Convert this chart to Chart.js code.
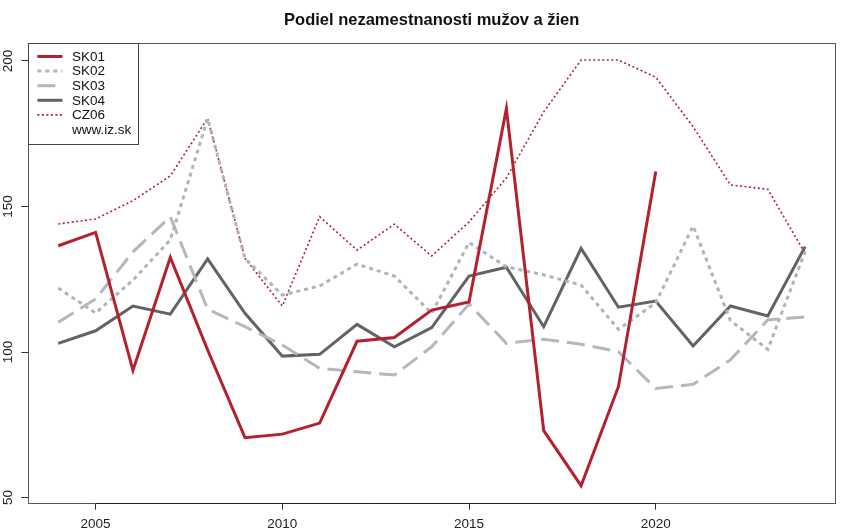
<!DOCTYPE html>
<html>
<head>
<meta charset="utf-8">
<script src="https://cdn.jsdelivr.net/npm/chart.js@4.4.1/dist/chart.umd.min.js"></script>
<style>
html,body{margin:0;padding:0;background:#fff;}
#wrap{width:850px;height:532px;position:relative;}
</style>
</head>
<body>
<div id="wrap"><canvas id="c" width="850" height="532"></canvas></div>
<script>
const years = [2004,2005,2006,2007,2008,2009,2010,2011,2012,2013,2014,2015,2016,2017,2018,2019,2020,2021,2022,2023,2024];
const sk01 = [136.5,141.1,93.7,132.5,100.7,70.6,71.8,75.6,103.7,105.0,114.4,117.2,183.6,73.0,54.1,88.1,162.0,null,null,null,null];
const sk02 = [122.0,113.4,124.7,138.5,180.2,132.2,119.6,122.7,130.2,126.1,113.3,137.6,129.3,126.5,123.0,107.8,116.9,143.3,110.8,100.9,134.5];
const sk03 = [110.2,118.2,134.4,146.5,114.7,108.7,102.4,94.4,93.2,92.1,101.8,116.5,103.0,104.4,102.7,100.1,87.5,88.9,97.3,111.0,112.1];
const sk04 = [103.0,107.3,115.8,113.0,132.0,113.3,98.6,99.2,109.5,101.8,108.4,126.1,129.1,108.7,135.6,115.4,117.5,102.1,115.8,112.4,136.2];
const cz06 = [144.0,145.7,152.0,160.5,180.3,132.2,115.8,146.5,135.0,143.9,133.0,144.7,159.8,182.5,200.3,200.3,194.4,177.4,157.4,155.9,133.9];
const seriesNames = ['SK01','SK02','SK03','SK04','CZ06'];
const xTicks = [2005,2010,2015,2020];
const yTicks = [50,100,150,200];
const titleText = 'Podiel nezamestnanosti mužov a žien';
const sourceText = 'www.iz.sk';

const pts = arr => years.map((y,i)=>({x:y, y:arr[i]}));
const styles = [
  {c:'#B5202E', w:3, d:[]},
  {c:'#ADB4BC', w:3, d:[4,4]},
  {c:'#B3B8BF', w:3, d:[18,8]},
  {c:'#636363', w:3, d:[]},
  {c:'#B5202E', w:1.6, d:[2,2.5]}
];
const allData = [sk01,sk02,sk03,sk04,cz06];
const datasets = allData.map((arr,i)=>({
  label: seriesNames[i],
  data: pts(arr),
  borderColor: styles[i].c,
  borderWidth: styles[i].w,
  borderDash: styles[i].d,
  pointRadius: 0,
  fill: false,
  tension: 0,
  spanGaps: false,
  borderJoinStyle: 'miter'
}));

const FONT = '"Liberation Sans", Arial, sans-serif';
const LBL = 13.5;

const framePlugin = {
  id: 'frame',
  afterDraw(chart){
    const ctx = chart.ctx, a = chart.chartArea;
    const xs = chart.scales.x, ys = chart.scales.y;
    ctx.save();
    // box
    ctx.strokeStyle = '#555';
    ctx.lineWidth = 1;
    ctx.setLineDash([]);
    ctx.strokeRect(Math.round(a.left)+0.5, Math.round(a.top)+0.5, Math.round(a.right-a.left), Math.round(a.bottom-a.top));
    // axis segment (R style)
    ctx.strokeStyle = '#222';
    ctx.beginPath();
    const yb = Math.round(a.bottom)+0.5;
    ctx.moveTo(xs.getPixelForValue(xTicks[0]), yb);
    ctx.lineTo(xs.getPixelForValue(xTicks[xTicks.length-1]), yb);
    ctx.stroke();
    // y tick labels, rotated
    ctx.fillStyle = '#222';
    ctx.font = LBL + 'px ' + FONT;
    ctx.textAlign = 'center';
    ctx.textBaseline = 'middle';
    yTicks.forEach(v=>{
      const py = ys.getPixelForValue(v);
      ctx.save();
      ctx.translate(8, py);
      ctx.rotate(-Math.PI/2);
      ctx.fillText(String(v), 0, 0);
      ctx.restore();
    });
    // legend
    const lx = Math.round(a.left)+0.5, ly = Math.round(a.top)+0.5;
    const lw = 110, lh = 101;
    ctx.fillStyle = '#fff';
    ctx.fillRect(lx, ly, lw, lh);
    ctx.strokeStyle = '#444';
    ctx.lineWidth = 1;
    ctx.strokeRect(lx, ly, lw, lh);
    ctx.font = LBL + 'px ' + FONT;
    ctx.textAlign = 'left';
    ctx.textBaseline = 'middle';
    const rowY0 = a.top + 13.5, rowH = 14.6;
    chart.data.datasets.forEach((ds,i)=>{
      const ry = rowY0 + i*rowH;
      ctx.save();
      ctx.strokeStyle = ds.borderColor;
      ctx.lineWidth = ds.borderWidth;
      ctx.setLineDash(ds.borderDash);
      ctx.beginPath();
      ctx.moveTo(a.left+9, ry);
      ctx.lineTo(a.left+34, ry);
      ctx.stroke();
      ctx.restore();
      ctx.fillStyle = '#111';
      ctx.fillText(ds.label, a.left+43.5, ry+0.5);
    });
    ctx.fillStyle = '#111';
    ctx.fillText(sourceText, a.left+43.5, rowY0 + 5*rowH + 0.5);
    ctx.restore();
  }
};

new Chart(document.getElementById('c'), {
  type: 'line',
  data: { datasets },
  options: {
    responsive: false,
    animation: false,
    devicePixelRatio: 1,
    layout: { padding: { left: 0, right: 15, top: 0, bottom: 0 } },
    plugins: {
      legend: { display: false },
      tooltip: { enabled: false },
      title: {
        display: true,
        text: titleText,
        fullSize: false,
        color: '#111',
        font: { family: FONT, size: 16.5, weight: 'bold', lineHeight: 1.2 },
        padding: { top: 11, bottom: 12.2 }
      }
    },
    scales: {
      x: {
        type: 'linear',
        min: 2003.2,
        max: 2024.8,
        afterBuildTicks: s => { s.ticks = xTicks.map(v=>({value:v})); },
        afterFit: s => { s.height = 29.3; },
        border: { display: false },
        grid: { drawOnChartArea: false, drawTicks: true, tickLength: 7, tickColor: '#333', tickWidth: 1 },
        ticks: { color: '#222', padding: 6, maxRotation: 0, font: { family: FONT, size: LBL }, callback: v => String(v) }
      },
      y: {
        type: 'linear',
        min: 48.25,
        max: 206.15,
        afterBuildTicks: s => { s.ticks = yTicks.map(v=>({value:v})); },
        afterFit: s => { s.width = 28.4; },
        border: { display: false },
        grid: { drawOnChartArea: false, drawTicks: true, tickLength: 7, tickColor: '#333', tickWidth: 1 },
        ticks: { color: 'rgba(0,0,0,0)', padding: 0, font: { family: FONT, size: LBL } }
      }
    }
  },
  plugins: [framePlugin]
});
</script>
</body>
</html>
